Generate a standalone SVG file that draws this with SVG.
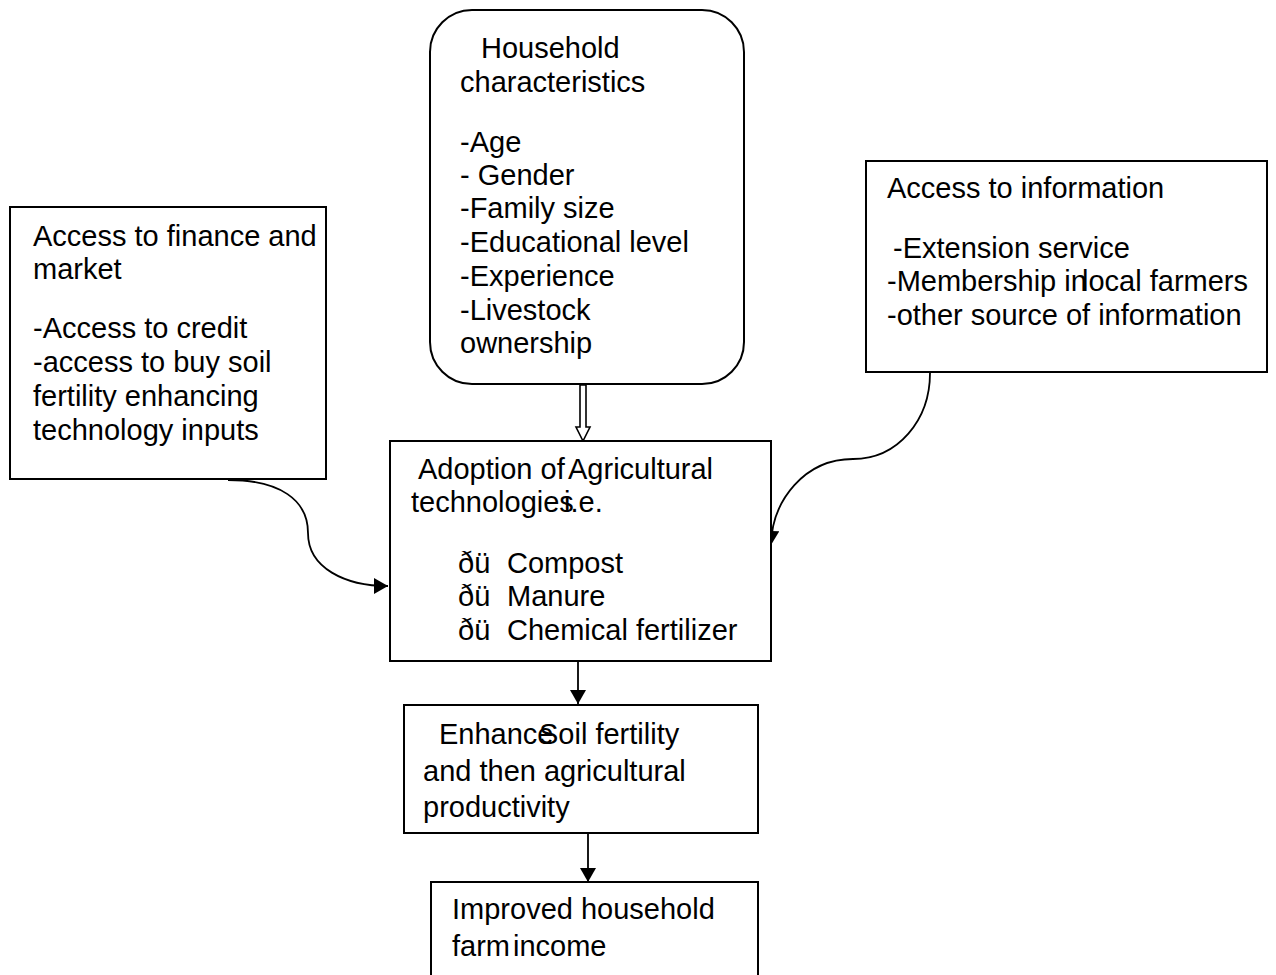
<svg xmlns="http://www.w3.org/2000/svg" width="1276" height="975" viewBox="0 0 1276 975">
<style>
.box{fill:#fff;stroke:#000;stroke-width:2}
.t{font-family:"Liberation Sans",Arial,sans-serif;font-size:29px;fill:#000}
.c{fill:none;stroke:#000;stroke-width:1.8}
</style>
<defs>
<marker id="ah" viewBox="0 0 14 16" refX="14" refY="8" markerWidth="14" markerHeight="16" markerUnits="userSpaceOnUse" orient="auto">
<path d="M0,0 L14,8 L0,16 z" fill="#000"/>
</marker>
<clipPath id="clipEnh"><rect x="404" y="705" width="354" height="118"/></clipPath>
</defs>
<rect width="1276" height="975" fill="#fff"/>

<g id="connectors">
<polygon points="580,385 586,385 586,427 590,427 583,441 576,427 580,427" fill="#fff" stroke="#000" stroke-width="1.6"/>
<path class="c" d="M228,480 C280,480 308,500 308,533 C308,568 345,586 388,586" marker-end="url(#ah)"/>
<path class="c" d="M930,373 C930,420 898,459 853,459 C805,459 772,500 771,545" marker-end="url(#ah)"/>
<line class="c" x1="578" y1="661" x2="578" y2="704" marker-end="url(#ah)"/>
<line class="c" x1="588" y1="833" x2="588" y2="882" marker-end="url(#ah)"/>
</g>

<g id="household">
<rect class="box" x="430" y="10" width="314" height="374" rx="42" ry="42"/>
<text class="t" x="481" y="58">Household</text>
<text class="t" x="460" y="92">characteristics</text>
<text class="t" x="460" y="152">-Age</text>
<text class="t" x="460" y="185">- Gender</text>
<text class="t" x="460" y="218">-Family size</text>
<text class="t" x="460" y="252">-Educational level</text>
<text class="t" x="460" y="286">-Experience</text>
<text class="t" x="460" y="320">-Livestock</text>
<text class="t" x="460" y="353">ownership</text>
</g>

<g id="finance">
<rect class="box" x="10" y="207" width="316" height="272"/>
<text class="t" x="33" y="246">Access to finance and</text>
<text class="t" x="33" y="279">market</text>
<text class="t" x="33" y="338">-Access to credit</text>
<text class="t" x="33" y="372">-access to buy soil</text>
<text class="t" x="33" y="406">fertility enhancing</text>
<text class="t" x="33" y="440">technology inputs</text>
</g>

<g id="information">
<rect class="box" x="866" y="161" width="401" height="211"/>
<text class="t" x="887" y="198">Access to information</text>
<text class="t" x="893" y="258">-Extension service</text>
<text class="t" x="887" y="291">-Membership in</text>
<text class="t" x="1082" y="291">local farmers</text>
<text class="t" x="887" y="325">-other source of information</text>
</g>

<g id="adoption">
<rect class="box" x="390" y="441" width="381" height="220"/>
<text class="t" x="418" y="479">Adoption of</text>
<text class="t" x="568" y="479">Agricultural</text>
<text class="t" x="411" y="512">technologies</text>
<text class="t" x="564" y="512">i.e.</text>
<text class="t" x="458" y="573">ðü</text>
<text class="t" x="507" y="573">Compost</text>
<text class="t" x="458" y="606">ðü</text>
<text class="t" x="507" y="606">Manure</text>
<text class="t" x="458" y="640">ðü</text>
<text class="t" x="507" y="640">Chemical fertilizer</text>
</g>

<g id="enhance">
<rect class="box" x="404" y="705" width="354" height="128"/>
<text class="t" x="439" y="744">Enhance</text>
<text class="t" x="539" y="744">Soil fertility</text>
<text class="t" x="423" y="781">and then agricultural</text>
<text class="t" x="423" y="817" clip-path="url(#clipEnh)">productivity</text>
</g>

<g id="income">
<rect class="box" x="431" y="882" width="327" height="110"/>
<text class="t" x="452" y="919">Improved household</text>
<text class="t" x="452" y="956">farm</text>
<text class="t" x="513" y="956">income</text>
</g>
</svg>
